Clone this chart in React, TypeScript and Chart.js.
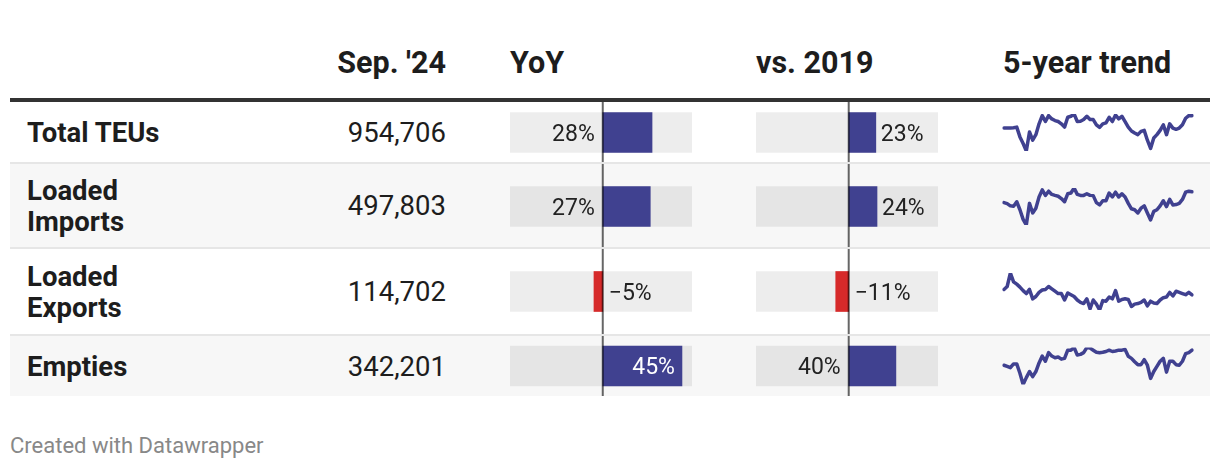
import React, { useEffect, useRef } from "react";
import { Chart, registerables } from "chart.js";

Chart.register(...registerables);

// ---------- DATA ----------
const ROW_LABELS = ["Total TEUs", "Loaded Imports", "Loaded Exports", "Empties"];
const COLUMN_HEADERS = ["Sep. '24", "YoY", "vs. 2019", "5-year trend"];
const SEP_24 = [954706, 497803, 114702, 342201];
const YOY = [28, 27, -5, 45];
const VS_2019 = [23, 24, -11, 40];
const YOY_DOMAIN = [-52.7, 50.7];
const VS2019_DOMAIN = [-78.6, 75.7];

// 5-year monthly trend, Oct '19 – Sep '24 (thousand TEUs)
const TOTAL_TEUS_TREND = [780, 780, 780, 785, 794, 656, 564, 458, 725, 610, 688, 840, 955, 872, 955, 909, 886, 872, 840, 794, 932, 946, 978, 872, 877, 900, 946, 900, 900, 826, 789, 840, 854, 932, 872, 964, 909, 946, 872, 794, 739, 711, 688, 734, 748, 610, 495, 642, 688, 748, 826, 688, 840, 780, 762, 780, 826, 918, 955, 954.7];
const LOADED_IMPORTS_TREND = [410, 402, 384, 381, 417, 352, 274, 228, 404, 326, 365, 456, 514, 469, 503, 477, 469, 462, 443, 417, 482, 488, 529, 477, 469, 469, 482, 469, 467, 410, 391, 425, 425, 488, 456, 495, 456, 482, 456, 404, 360, 352, 326, 365, 384, 326, 269, 339, 352, 384, 425, 378, 436, 391, 394, 404, 436, 495, 503, 497.8];
const LOADED_EXPORTS_TREND = [124, 129, 152, 137, 133, 128, 122, 117, 124, 108, 112, 119, 123, 124, 129, 125, 121, 117, 117, 106, 118, 115, 112, 106, 102, 100, 108, 91, 106, 99, 89, 105, 104, 111, 108, 122, 104, 107, 108, 107, 95, 99, 100, 102, 106, 96, 104, 101, 100, 106, 110, 111, 119, 113, 121, 119, 117, 115, 119, 114.7];
const EMPTIES_TREND = [263, 257, 250, 270, 270, 221, 162, 198, 230, 203, 230, 275, 311, 284, 329, 311, 302, 306, 295, 299, 342, 342, 356, 317, 320, 329, 356, 353, 342, 331, 329, 331, 335, 342, 335, 338, 342, 342, 346, 310, 299, 281, 266, 266, 292, 263, 194, 230, 257, 284, 299, 227, 284, 284, 266, 263, 284, 324, 329, 342.2];
const TRENDS = [TOTAL_TEUS_TREND, LOADED_IMPORTS_TREND, LOADED_EXPORTS_TREND, EMPTIES_TREND];

const MONTH_NAMES = ["Jan", "Feb", "Mar", "Apr", "May", "Jun", "Jul", "Aug", "Sep", "Oct", "Nov", "Dec"];
const TREND_LABELS: string[] = [];
for (let i = 0; i < 60; i++) {
  const m = (9 + i) % 12;
  const y = 2019 + Math.floor((9 + i) / 12);
  TREND_LABELS.push(MONTH_NAMES[m] + " '" + String(y).slice(2));
}

// ---------- STYLE / LAYOUT ----------
const FONT = "Roboto, 'Noto Sans', Arial, sans-serif";
const BLUE = "rgb(64,65,144)";
const RED = "#d62a2a";
const TEXT = "#1d1d1d";
const ROW_TOPS = [102, 164, 249, 336];
const ROW_HEIGHTS = [60, 83, 85, 60];
const BAND_CENTERS = [132.5, 206.5, 291.5, 366];
const BAR_LABEL_FONT = 23;
const HEADER_FONT = 30.5;
const BODY_FONT = 27.5;

function fmtPct(v: number) {
  return (v < 0 ? "\u2212" : "") + Math.abs(v) + "%";
}

const barLabelPlugin = {
  id: "barLabelPlugin",
  afterDatasetsDraw(chart: any) {
    const ctx = chart.ctx;
    const xs = chart.scales.x;
    const value = chart.data.datasets[0].data[0] as number;
    const meta = chart.getDatasetMeta(0);
    const bar = meta.data[0];
    const cy = bar.y;
    const x0 = xs.getPixelForValue(0);
    const xe = xs.getPixelForValue(value);
    const area = chart.chartArea;
    ctx.save();
    // zero line
    ctx.strokeStyle = "rgba(0,0,0,0.6)";
    ctx.lineWidth = 2;
    ctx.beginPath();
    ctx.moveTo(x0, 0);
    ctx.lineTo(x0, chart.height);
    ctx.stroke();
    // label
    const text = fmtPct(value);
    ctx.font = `400 ${BAR_LABEL_FONT}px ${FONT}`;
    const w = ctx.measureText(text).width;
    const pad = 6;
    const by = cy + 8;
    ctx.fillStyle = "#222";
    if (value < 0) {
      ctx.textAlign = "left";
      ctx.fillText(text, x0 + pad, by);
    } else if (area.right - xe >= w + pad + 2) {
      ctx.textAlign = "left";
      ctx.fillText(text, xe + 5, by);
    } else if (xe - x0 >= w + 2 * pad) {
      ctx.textAlign = "right";
      ctx.fillStyle = "#ffffff";
      ctx.fillText(text, xe - 7, by);
    } else {
      ctx.textAlign = "right";
      ctx.fillText(text, x0 - 8, by);
    }
    ctx.restore();
  },
};

function BarCell(props: { value: number; domain: number[]; left: number; width: number; row: number }) {
  const ref = useRef<HTMLCanvasElement>(null);
  const { value, domain, left, width, row } = props;
  const top = ROW_TOPS[row];
  const height = ROW_HEIGHTS[row];
  useEffect(() => {
    const c = BAND_CENTERS[row] - top;
    const shift = 2 * c - height;
    const chart = new Chart(ref.current as HTMLCanvasElement, {
      type: "bar",
      data: {
        labels: [ROW_LABELS[row]],
        datasets: [
          {
            data: [value],
            backgroundColor: value < 0 ? RED : BLUE,
            barThickness: 40,
            grouped: false,
            order: 1,
            borderWidth: 0,
          } as any,
          {
            data: [[domain[0], domain[1]]],
            backgroundColor: "rgba(0,0,0,0.07)",
            barThickness: 40,
            grouped: false,
            order: 2,
            borderWidth: 0,
          } as any,
        ],
      },
      options: {
        indexAxis: "y",
        animation: false,
        responsive: false,
        maintainAspectRatio: false,
        layout: { padding: { top: shift > 0 ? shift : 0, bottom: shift < 0 ? -shift : 0, left: 0, right: 0 } },
        plugins: { legend: { display: false }, tooltip: { enabled: false } },
        scales: {
          x: { type: "linear", display: false, min: domain[0], max: domain[1] },
          y: { display: false },
        },
      },
      plugins: [barLabelPlugin],
    });
    return () => chart.destroy();
  }, []);
  return (
    <canvas
      ref={ref}
      width={width}
      height={height}
      style={{ position: "absolute", left, top, width, height }}
    />
  );
}

function Sparkline(props: { series: number[]; row: number }) {
  const ref = useRef<HTMLCanvasElement>(null);
  const { series, row } = props;
  const top = ROW_TOPS[row];
  const height = ROW_HEIGHTS[row];
  const left = 998;
  const width = 200;
  useEffect(() => {
    const c = BAND_CENTERS[row] - top;
    const half = 18.5;
    const chart = new Chart(ref.current as HTMLCanvasElement, {
      type: "line",
      data: {
        labels: TREND_LABELS,
        datasets: [
          {
            data: series,
            borderColor: BLUE,
            borderWidth: 3.5,
            pointRadius: 0,
            tension: 0,
            fill: false,
            borderJoinStyle: "round",
            borderCapStyle: "round",
          } as any,
        ],
      },
      options: {
        animation: false,
        responsive: false,
        maintainAspectRatio: false,
        layout: { padding: { left: 6, right: 6, top: c - half, bottom: height - (c + half) } },
        plugins: { legend: { display: false }, tooltip: { enabled: false } },
        scales: {
          x: { display: false },
          y: { display: false, min: Math.min(...series), max: Math.max(...series) },
        },
      },
    });
    return () => chart.destroy();
  }, []);
  return (
    <canvas
      ref={ref}
      width={width}
      height={height}
      style={{ position: "absolute", left, top, width, height }}
    />
  );
}

function BaselineText(props: { text: string; baseline: number; size: number; weight?: number; left?: number; right?: number; color?: string }) {
  const { text, baseline, size, weight = 400, left, right, color = TEXT } = props;
  const top = baseline - 0.8418 * size;
  const style: React.CSSProperties = {
    position: "absolute",
    top,
    fontSize: size,
    lineHeight: size + "px",
    fontWeight: weight,
    color,
    whiteSpace: "nowrap",
    fontFamily: FONT,
  };
  if (left !== undefined) style.left = left;
  if (right !== undefined) style.right = right;
  return <div style={style}>{text}</div>;
}

export default function App() {
  return (
    <div
      style={{
        position: "absolute",
        left: 0,
        top: 0,
        width: 1220,
        height: 472,
        background: "#fff",
        fontFamily: FONT,
        overflow: "hidden",
      }}
    >
      {/* header */}
      <BaselineText text={COLUMN_HEADERS[0]} baseline={73.5} size={HEADER_FONT} weight={700} right={1220 - 446} />
      <BaselineText text={COLUMN_HEADERS[1]} baseline={73.5} size={HEADER_FONT} weight={700} left={510} />
      <BaselineText text={COLUMN_HEADERS[2]} baseline={73.5} size={HEADER_FONT} weight={700} left={756} />
      <BaselineText text={COLUMN_HEADERS[3]} baseline={73.5} size={HEADER_FONT} weight={700} left={1003} />
      <div style={{ position: "absolute", left: 10, width: 1200, top: 98, height: 4, background: "#333" }} />

      {/* rows */}
      {ROW_LABELS.map((label, i) => (
        <React.Fragment key={label}>
          <div
            style={{
              position: "absolute",
              left: 10,
              width: 1200,
              top: ROW_TOPS[i],
              height: ROW_HEIGHTS[i],
              background: i % 2 === 1 ? "#f7f7f7" : "#ffffff",
            }}
          />
          {i < ROW_LABELS.length - 1 && (
            <div
              style={{
                position: "absolute",
                left: 10,
                width: 1200,
                top: ROW_TOPS[i] + ROW_HEIGHTS[i],
                height: 2,
                background: "#e6e6e6",
              }}
            />
          )}
          <div
            style={{
              position: "absolute",
              left: 27,
              width: 175,
              top: ROW_TOPS[i],
              height: ROW_HEIGHTS[i],
              display: "flex",
              alignItems: "center",
              fontSize: BODY_FONT,
              lineHeight: "31px",
              fontWeight: 700,
              color: TEXT,
            }}
          >
            <div>{label}</div>
          </div>
          <div
            style={{
              position: "absolute",
              right: 1220 - 446,
              top: ROW_TOPS[i],
              height: ROW_HEIGHTS[i],
              display: "flex",
              alignItems: "center",
              fontSize: BODY_FONT,
              lineHeight: "31px",
              fontWeight: 400,
              color: TEXT,
              whiteSpace: "nowrap",
            }}
          >
            <div>{SEP_24[i].toLocaleString("en-US")}</div>
          </div>
          <BarCell value={YOY[i]} domain={YOY_DOMAIN} left={510} width={182} row={i} />
          <BarCell value={VS_2019[i]} domain={VS2019_DOMAIN} left={756} width={182} row={i} />
          <Sparkline series={TRENDS[i]} row={i} />
        </React.Fragment>
      ))}

      {/* footer */}
      <BaselineText text="Created with Datawrapper" baseline={454} size={22} color="#888" left={10} />
    </div>
  );
}
